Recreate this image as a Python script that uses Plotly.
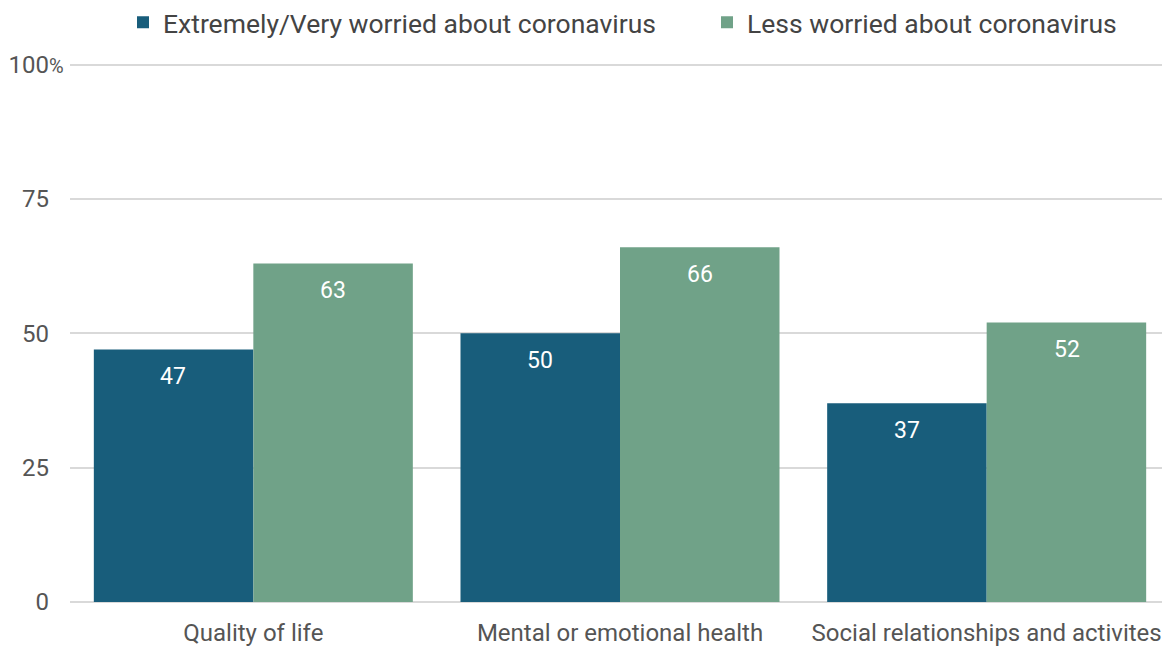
import plotly.graph_objects as go

categories = ["Quality of life", "Mental or emotional health", "Social relationships and activites"]
series_names = ["Extremely/Very worried about coronavirus", "Less worried about coronavirus"]
worried = [47, 50, 37]
less_worried = [63, 66, 52]
tick_vals = [0, 25, 50, 75, 100]
tick_text = ["0", "25", "50", "75", "100"]

colors = ["#185d7b", "#70a288"]
FONT = "Roboto, 'Open Sans', sans-serif"

# page body has an 8px margin, so the figure is made 8px smaller
W, H = 1162, 638

fig = go.Figure()
for name, vals, col, lg in zip(series_names, [worried, less_worried], colors, ["legend", "legend2"]):
    fig.add_trace(go.Bar(
        x=categories, y=vals, name=name, legend=lg,
        marker=dict(color=col, line=dict(width=0)),
        hoverinfo="skip",
    ))

# data labels inside bars near the top
for i, vals in enumerate([worried, less_worried]):
    for c, v in zip(categories, vals):
        fig.add_annotation(
            x=c, y=v, text=str(v), showarrow=False,
            xshift=-80 if i == 0 else 80, yshift=-27,
            font=dict(family=FONT, size=23, color="white"),
            xref="x", yref="y",
        )

# percent sign after the top tick
fig.add_annotation(
    xref="paper", yref="y", x=0, y=100, xshift=-4, xanchor="right",
    text="%", showarrow=False, yshift=-1,
    font=dict(family=FONT, size=20, color="#555555"),
)

legend_common = dict(
    orientation="h", xref="container", xanchor="left",
    yref="container", y=1 - 14.5 / H, yanchor="middle",
    font=dict(family=FONT, size=26.5, color="#444444"),
    bgcolor="rgba(0,0,0,0)",
)

fig.update_layout(
    width=W, height=H,
    margin=dict(l=62, r=0, t=55, b=44),
    paper_bgcolor="white", plot_bgcolor="white",
    barmode="group", bargap=0.13, bargroupgap=0,
    font=dict(family=FONT, size=23, color="#555555"),
    showlegend=True,
    legend=dict(x=115 / W, **legend_common),
    legend2=dict(x=699 / W, **legend_common),
    xaxis=dict(
        showgrid=False, showline=False, ticks="", automargin=False,
        tickfont=dict(family=FONT, size=24, color="#555555"),
        ticklabelstandoff=14,
    ),
    yaxis=dict(
        range=[0, 100.3], tickvals=tick_vals, ticktext=tick_text, automargin=False,
        showgrid=True, gridcolor="#d9d9d9", gridwidth=1.5,
        zeroline=True, zerolinecolor="#d9d9d9", zerolinewidth=1.5,
        showline=False, ticks="",
        tickfont=dict(family=FONT, size=24, color="#555555"),
        ticklabelstandoff=20,
    ),
)

fig.write_html("out.html")
